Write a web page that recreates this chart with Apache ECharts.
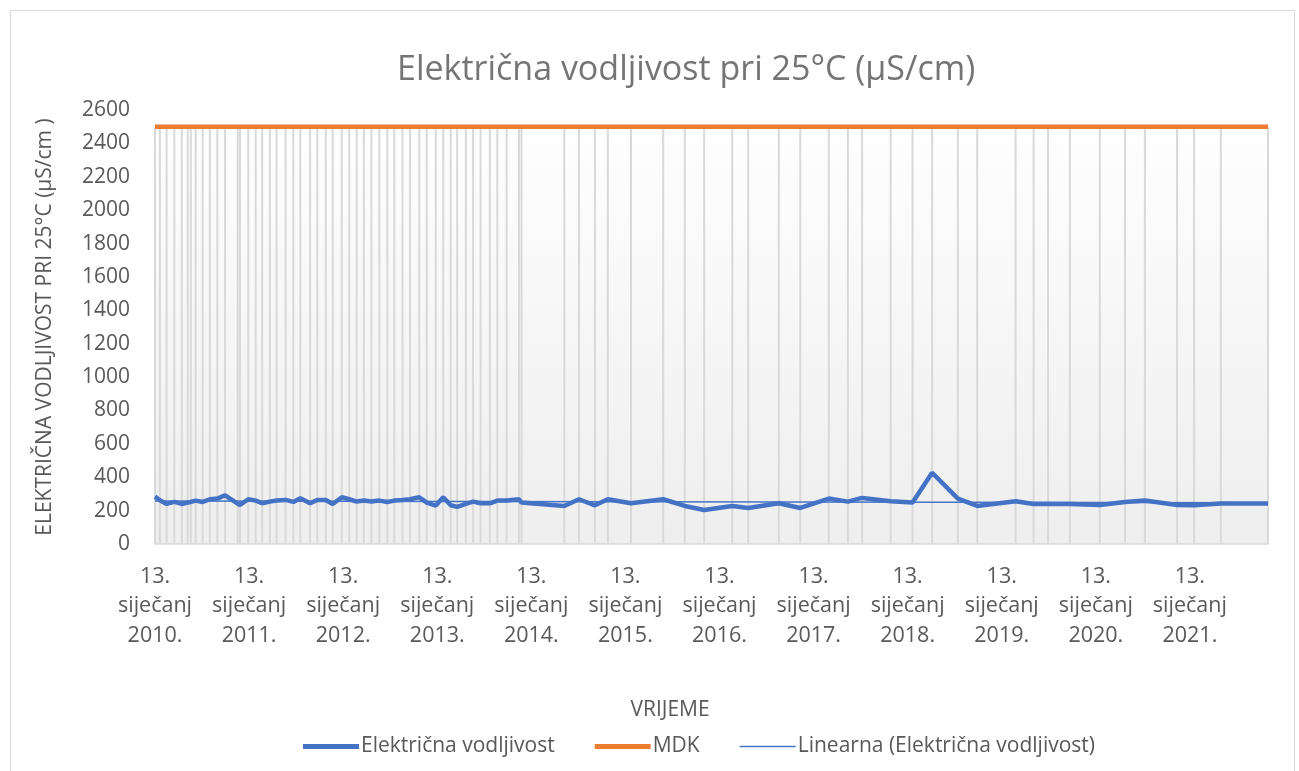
<!DOCTYPE html>
<html>
<head>
<meta charset="utf-8">
<title>Električna vodljivost pri 25°C</title>
<script src="https://cdn.jsdelivr.net/npm/echarts@6/dist/echarts.min.js"></script>
<style>
  html, body { margin: 0; padding: 0; background: #fff; }
  #chart { width: 1299px; height: 771px; }
</style>
</head>
<body>
<div id="chart"></div>
<script>
  // datumi mjerenja
  const dates = [
    '2010-01-13', '2010-02-01', '2010-02-27', '2010-03-29', '2010-04-27', '2010-05-20', '2010-06-01',
    '2010-06-20', '2010-07-17', '2010-08-14', '2010-09-12', '2010-10-12', '2010-11-30', '2010-12-09',
    '2011-01-10', '2011-02-08', '2011-03-05', '2011-04-04', '2011-04-30', '2011-06-04', '2011-07-04',
    '2011-07-31', '2011-09-07', '2011-10-05', '2011-11-07', '2011-12-04', '2012-01-08', '2012-02-06',
    '2012-03-06', '2012-04-03', '2012-05-02', '2012-06-02', '2012-07-03', '2012-07-30', '2012-08-31',
    '2012-09-29', '2012-11-04', '2012-12-03', '2013-01-07', '2013-02-05', '2013-03-06', '2013-03-31',
    '2013-05-04', '2013-06-01', '2013-06-30', '2013-08-05', '2013-09-03', '2013-10-09', '2013-11-26',
    '2013-12-06', '2014-05-21', '2014-07-17', '2014-09-17', '2014-11-06', '2015-02-04', '2015-06-09',
    '2015-09-01', '2015-11-15', '2016-03-03', '2016-05-04', '2016-08-31', '2016-11-22', '2017-03-13',
    '2017-05-26', '2017-07-20', '2017-11-08', '2018-02-01', '2018-04-18', '2018-07-27', '2018-10-10',
    '2019-03-08', '2019-05-17', '2019-07-12', '2019-10-05', '2020-01-29', '2020-05-06', '2020-07-22',
    '2020-11-24', '2021-01-29', '2021-05-13', '2021-11-12'
  ];
  // električna vodljivost (µS/cm)
  const values = [
    284, 262, 240, 252, 240, 248, 252,
    260, 252, 268, 272, 292, 242, 234,
    268, 260, 244, 254, 260, 264, 252,
    274, 244, 264, 264, 240, 280, 268,
    254, 260, 254, 260, 252, 260, 264,
    268, 280, 248, 230, 280, 232, 222,
    240, 254, 244, 244, 260, 260, 268,
    248, 228, 268, 232, 268, 244, 268,
    228, 204, 228, 216, 244, 216, 272,
    254, 276, 256, 248, 427, 272, 228,
    256, 240, 240, 240, 234, 252, 260,
    234, 232, 242, 242
  ];
  const mdk = 2500;
  const yearTicks = [2010, 2011, 2012, 2013, 2014, 2015, 2016, 2017, 2018, 2019, 2020, 2021];

  const DAY = 86400000;
  const YEAR = 365.25;
  const start = Date.parse(dates[0]);
  const days = dates.map(d => (Date.parse(d) - start) / DAY);

  // linearni trend kao u Excelu
  let n = days.length, sx = 0, sy = 0, sxx = 0, sxy = 0;
  for (let i = 0; i < n; i++) {
    sx += days[i]; sy += values[i]; sxx += days[i] * days[i]; sxy += days[i] * values[i];
  }
  const slope = (n * sxy - sx * sy) / (n * sxx - sx * sx);
  const icpt = (sy - slope * sx) / n;
  const first = days[0], last = days[n - 1];

  const font = '"Open Sans", "Noto Sans", sans-serif';
  const grey = '#595959';
  const thick = 'path://M0,0H56V5H0Z';
  const thin = 'path://M0,0H56V1.5H0Z';

  let chart = echarts.init(document.getElementById('chart'));
  chart.setOption({
    animation: false,
    textStyle: { fontFamily: font },
    title: {
      text: 'Električna vodljivost pri 25°C (µS/cm)',
      left: 392,
      top: 48,
      textStyle: { fontSize: 34, fontWeight: 'normal', color: '#757575', fontFamily: font }
    },
    graphic: [
      {
        type: 'rect', silent: true,
        shape: { x: 10.5, y: 10.5, width: 1284, height: 790 },
        style: { fill: 'none', stroke: '#d9d9d9', lineWidth: 1 }
      },
      {
        type: 'text', silent: true, x: 670, y: 700,
        style: { text: 'VRIJEME', textAlign: 'center', font: '21px ' + font, fill: grey }
      }
    ],
    legend: {
      top: 731,
      left: 298,
      itemWidth: 56,
      itemHeight: 10,
      itemGap: 40,
      itemStyle: { borderWidth: 0 },
      data: [
        { name: 'Električna vodljivost', icon: thick },
        { name: 'MDK', icon: thick },
        { name: 'Linearna (Električna vodljivost)', icon: thin }
      ],
      textStyle: { fontSize: 21, color: grey, padding: [0, 0, 0, -3] }
    },
    grid: {
      left: 155, right: 31, top: 110, bottom: 227,
      show: true, borderWidth: 0,
      backgroundColor: {
        type: 'linear', x: 0, y: 0, x2: 0, y2: 1,
        colorStops: [{ offset: 0, color: '#ffffff' }, { offset: 1, color: '#eeeeee' }]
      }
    },
    xAxis: {
      type: 'value',
      min: first, max: last, interval: YEAR,
      axisLine: { lineStyle: { color: '#d9d9d9', width: 1.5 } },
      axisTick: { show: false },
      splitLine: { show: false },
      axisLabel: {
        showMaxLabel: false,
        margin: 18,
        fontSize: 21.5,
        lineHeight: 29.5,
        color: grey,
        formatter: function (v) {
          const k = Math.round(v / YEAR);
          if (Math.abs(v / YEAR - k) > 0.01 || k >= yearTicks.length) return '';
          return '13.\nsiječanj\n' + yearTicks[k] + '.';
        }
      }
    },
    yAxis: {
      type: 'value',
      min: 0, max: 2600, interval: 200,
      name: 'ELEKTRIČNA VODLJIVOST PRI 25°C (µS/cm )',
      nameLocation: 'middle',
      nameGap: 99,
      nameTextStyle: { fontSize: 21, color: grey },
      axisLine: { show: false },
      axisTick: { show: false },
      splitLine: { show: false },
      axisLabel: { fontSize: 21, color: grey, margin: 25, formatter: v => String(v) }
    },
    series: [
      {
        // okomite linije od MDK do osi
        name: 'drop',
        type: 'bar',
        silent: true,
        barWidth: 2,
        itemStyle: { color: '#d9d9d9' },
        data: days.map(d => [d, mdk]),
        z: 1
      },
      {
        name: 'Električna vodljivost',
        type: 'line',
        showSymbol: false,
        symbol: 'none',
        lineStyle: { color: '#4472C4', width: 4.5 },
        itemStyle: { color: '#4472C4' },
        data: days.map((d, i) => [d, values[i]]),
        z: 4
      },
      {
        name: 'MDK',
        type: 'line',
        showSymbol: false,
        symbol: 'none',
        lineStyle: { color: '#ED7D31', width: 4.5 },
        itemStyle: { color: '#ED7D31' },
        data: days.map(d => [d, mdk]),
        z: 3
      },
      {
        name: 'Linearna (Električna vodljivost)',
        type: 'line',
        showSymbol: false,
        symbol: 'none',
        lineStyle: { color: '#4472C4', width: 1.5 },
        itemStyle: { color: '#4472C4' },
        data: [[first, icpt + slope * first], [last, icpt + slope * last]],
        z: 5
      }
    ]
  });
</script>
</body>
</html>
